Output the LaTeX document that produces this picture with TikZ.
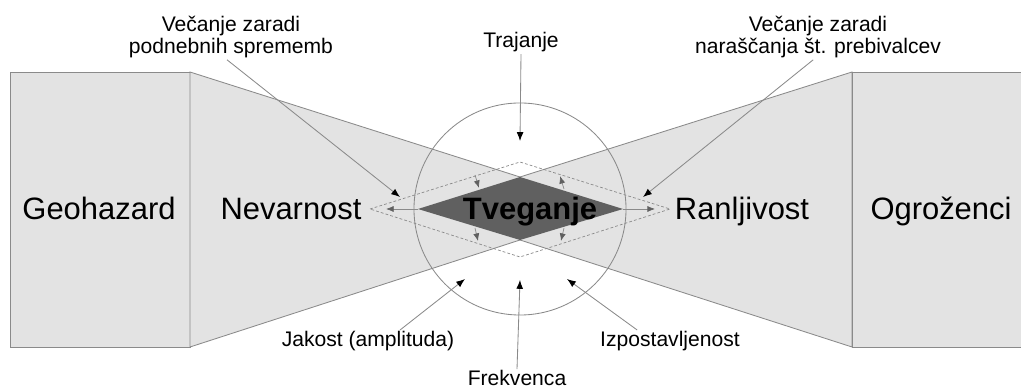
\documentclass[tikz,border=0pt]{standalone}
\usepackage{fontspec}
\setmainfont{Liberation Sans}
\usetikzlibrary{arrows.meta}

\definecolor{boxgray}{HTML}{E3E3E3}
\definecolor{linegray}{HTML}{8A8A8A}
\definecolor{riskgray}{HTML}{606060}

\begin{document}
\begin{tikzpicture}[
  x=0.025cm, y=-0.025cm,
  bignode/.style={inner sep=0pt, font=\fontsize{22}{26}\selectfont},
  smallnode/.style={inner sep=1pt, align=center, font=\fontsize{15}{16}\selectfont},
  zone/.style={fill=boxgray, draw=linegray, line width=0.6pt},
  blackarrow/.style={draw=linegray, line width=0.6pt, -{Latex[length=2.2mm, width=1.7mm, color=black]}},
  grayarrow/.style={draw=linegray, line width=0.5pt, -{Latex[length=1.9mm, width=1.5mm, color=riskgray]}},
]
\useasboundingbox (0,0) rectangle (1021,392);

% boxes and funnels
\path[zone] (10,72) rectangle (190,347);
\path[zone] (190,72) -- (520,177) -- (520,240) -- (190,347) -- cycle;
\path[zone] (852,72) -- (520,177) -- (520,240) -- (852,347) -- cycle;
\fill[boxgray] (852,72) rectangle (1021,347);
\draw[linegray, line width=0.6pt] (1021,72) -- (852,72) -- (852,347) -- (1021,347);

\draw[linegray, line width=0.6pt] (520,209) circle [radius=2.65cm];

% risk diamonds
\draw[linegray, line width=0.5pt, dash pattern=on 2pt off 1.5pt]
  (370,209) -- (520,162) -- (670,209) -- (520,257) -- cycle;
\fill[riskgray] (418,209) coordinate (dW) -- (520,177) -- (623,209) coordinate (dE) -- (520,240) -- cycle;

\node[bignode, anchor=base] (geo) at (99,220) {Geohazard};
\node[bignode, anchor=base] (nev) at (291,220) {Nevarnost};
\node[bignode, anchor=base] (ranlj) at (742,220) {Ranljivost};
\node[bignode, anchor=base] (ogr) at (941,220) {Ogroženci};
\node[bignode, anchor=base, font=\fontsize{22}{26}\selectfont\bfseries] (tveg) at (530,220) {Tveganje};

\node[smallnode, anchor=base] (traj) at (521,48) {Trajanje};
\node[smallnode] (vecL) at (231,37) {Večanje zaradi\\podnebnih sprememb};
\node[smallnode] (vecR) at (818,37) {Večanje zaradi\\naraščanja št. prebivalcev};
\node[smallnode, anchor=base] (jak) at (368,347) {Jakost (amplituda)};
\node[smallnode, anchor=base] (izp) at (670,347) {Izpostavljenost};
\node[smallnode, anchor=base] (frek) at (517,386) {Frekvenca};

\coordinate (tipL) at (400,197);
\coordinate (tipR) at (643,197);
\coordinate (tipT) at (520,141);
\coordinate (tipF) at (520,280);
\coordinate (tipJ) at (465,279);
\coordinate (tipI) at (567,279);
\coordinate (nevtip) at (386,209);
\coordinate (rantip) at (655,209);

\draw[blackarrow] ([xshift=-0.1cm]vecL.south) -- (tipL);
\draw[blackarrow] ([xshift=-0.12cm]vecR.south) -- (tipR);
\draw[blackarrow] (traj.south) -- (tipT);
\draw[blackarrow] (frek.north) -- (tipF);
\draw[blackarrow] ([xshift=0.8cm]jak.north) -- (tipJ);
\draw[blackarrow] ([xshift=-0.82cm]izp.north) -- (tipI);

\draw[grayarrow] (dW) -- (nevtip);
\draw[grayarrow] (dE) -- (rantip);
\draw[grayarrow] (475,175) -- (479,188);
\draw[grayarrow] (564,189) -- (560,176);
\draw[grayarrow] (475,228) -- (478,241);
\draw[grayarrow] (564,228) -- (561,241);

\end{tikzpicture}
\end{document}
